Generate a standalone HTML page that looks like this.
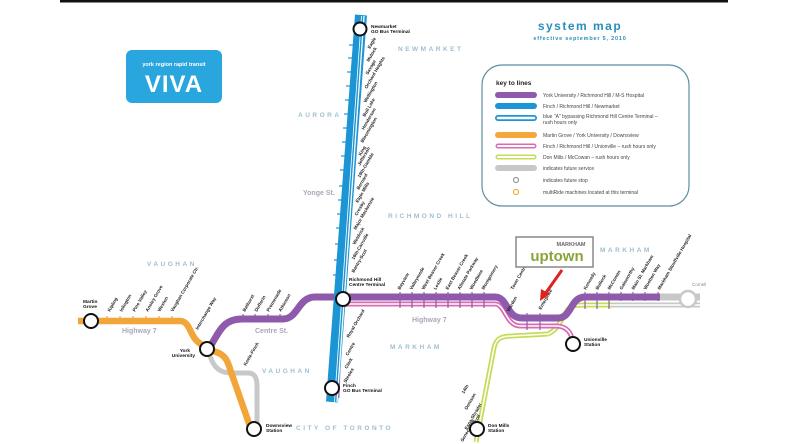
<!DOCTYPE html>
<html><head><meta charset="utf-8"><style>
html,body{margin:0;padding:0;background:#fff;}
svg{display:block;}
text{font-family:"Liberation Sans",sans-serif;}
.st{font-size:4.6px;font-weight:bold;fill:#222;}
.area{font-size:6.5px;fill:#9fbfd0;letter-spacing:2.5px;font-weight:bold;}
.rd{font-size:7px;fill:#a8a8b8;font-weight:bold;}
.term{font-size:4.8px;font-weight:bold;fill:#111;}
.lg{font-size:5px;fill:#444;}
</style></head><body>
<svg width="788" height="444" viewBox="0 0 788 444" xmlns="http://www.w3.org/2000/svg">
<rect width="788" height="444" fill="#fff"/>
<rect x="60" y="0" width="668" height="2.5" fill="#111"/>

<rect x="126" y="50" width="96" height="53" rx="6" fill="#2aa6de"/>
<text x="174" y="66" text-anchor="middle" font-size="5.5" fill="#fff" font-weight="bold">york region rapid transit</text>
<text x="174" y="92" text-anchor="middle" font-size="24" fill="#fff" font-weight="bold" letter-spacing="1">VIVA</text>

<text x="580" y="30" text-anchor="middle" font-size="12" font-weight="bold" fill="#2a8fb8" letter-spacing="1.5">system map</text>
<text x="580" y="40" text-anchor="middle" font-size="5.5" font-weight="bold" fill="#2a8fb8" letter-spacing="0.8">effective september 5, 2010</text>

<rect x="482" y="65" width="207" height="141" rx="20" fill="#fff" stroke="#5d8ea0" stroke-width="1.2"/>
<text x="496" y="85" font-size="6.5" font-weight="bold" fill="#222">key to lines</text>
<line x1="498" y1="95" x2="534" y2="95" stroke="#9059ad" stroke-width="6" stroke-linecap="round"/>
<text x="543" y="97" class="lg">York University / Richmond Hill / M-S Hospital</text>
<line x1="498" y1="106" x2="534" y2="106" stroke="#1c95d4" stroke-width="6" stroke-linecap="round"/>
<text x="543" y="108" class="lg">Finch / Richmond Hill / Newmarket</text>
<line x1="498" y1="118" x2="534" y2="118" stroke="#1c95d4" stroke-width="6" stroke-linecap="round"/>
<line x1="498" y1="118" x2="534" y2="118" stroke="#fff" stroke-width="2.5" stroke-linecap="round"/>
<text x="543" y="118" class="lg" fill="#111">blue "A" bypassing Richmond Hill Centre Terminal –</text>
<text x="543" y="124" class="lg" fill="#111">rush hours only</text>
<line x1="498" y1="135" x2="534" y2="135" stroke="#f4a73c" stroke-width="6" stroke-linecap="round"/>
<text x="543" y="137" class="lg">Martin Grove / York University / Downsview</text>
<line x1="498" y1="146" x2="534" y2="146" stroke="#d86bb4" stroke-width="5" stroke-linecap="round"/>
<line x1="498" y1="146" x2="534" y2="146" stroke="#fff" stroke-width="2" stroke-linecap="round"/>
<text x="543" y="148" class="lg">Finch / Richmond Hill / Unionville – rush hours only</text>
<line x1="498" y1="157" x2="534" y2="157" stroke="#c6dc58" stroke-width="5" stroke-linecap="round"/>
<line x1="498" y1="157" x2="534" y2="157" stroke="#fff" stroke-width="2" stroke-linecap="round"/>
<text x="543" y="159" class="lg">Don Mills / McCowan – rush hours only</text>
<line x1="498" y1="168" x2="534" y2="168" stroke="#c8c8c8" stroke-width="6" stroke-linecap="round"/>
<text x="543" y="170" class="lg">indicates future service</text>
<circle cx="516" cy="180" r="2.5" fill="#fff" stroke="#999" stroke-width="1.2"/>
<text x="543" y="182" class="lg">indicates future stop</text>
<circle cx="516" cy="192" r="2.5" fill="#fff" stroke="#f0b430" stroke-width="1.2"/>
<text x="543" y="194" class="lg">multiRide machines located at this terminal</text>

<text x="398" y="51" class="area">NEWMARKET</text>
<text x="298" y="117" class="area">AURORA</text>
<text x="388" y="218" class="area">RICHMOND HILL</text>
<text x="147" y="266" class="area">VAUGHAN</text>
<text x="262" y="373" class="area">VAUGHAN</text>
<text x="390" y="349" class="area">MARKHAM</text>
<text x="600" y="252" class="area">MARKHAM</text>
<text x="296" y="430" class="area">CITY OF TORONTO</text>
<text x="303" y="195" class="rd">Yonge St.</text>
<text x="122" y="333" class="rd">Highway 7</text>
<text x="255" y="333" class="rd">Centre St.</text>
<text x="412" y="322" class="rd">Highway 7</text>

<path d="M210,356 C214,368 220,373 232,373 L248,373 C255,373 257,378 257,386 L257,425" fill="none" stroke="#c8c8c8" stroke-width="5"/>
<path d="M610,305 L700,305" stroke="#c8c8c8" stroke-width="5" fill="none"/>
<path d="M660,297 L700,297" stroke="#c8c8c8" stroke-width="7" fill="none"/>
<line x1="610" y1="305" x2="700" y2="305" stroke="#fff" stroke-width="1.5"/>
<circle cx="688" cy="299" r="8" fill="#fff" stroke="#c8c8c8" stroke-width="2.5"/>
<text x="692" y="286" font-size="4.5" fill="#888">Cornell</text>

<path d="M78,321 L180,321 C190,321 190,336 198,342 L207,349 L216,352 C226,355 228,362 231,372 L252,432" fill="none" stroke="#f2a63a" stroke-width="6.5" stroke-linejoin="round"/>

<path d="M476,442 L494,348 C496,338 502,336 512,336 L548,334 M548,334 C558,330 562,318 566,312 C570,305 575,305 585,305 L612,305" fill="none" stroke="#c6dc58" stroke-width="5"/>
<path d="M476,442 L494,348 C496,338 502,336 512,336 L548,334 M548,334 C558,330 562,318 566,312 C570,305 575,305 585,305 L612,305" fill="none" stroke="#fff" stroke-width="1.5"/>

<path d="M337,398 L340,312 C341,305 344,304 350,304 L495,304 C505,304 506,326 520,326 L556,326 C566,326 572,332 573,344" fill="none" stroke="#d86bb4" stroke-width="5"/>
<path d="M337,398 L340,312 C341,305 344,304 350,304 L495,304 C505,304 506,326 520,326 L556,326 C566,326 572,332 573,344" fill="none" stroke="#fff" stroke-width="1.5"/>

<path d="M210,347 C220,330 224,319 242,319 L283,319 C298,319 298,297 315,297 L495,297 C508,297 506,318 522,318 L558,318 C572,318 570,297 585,297 L660,297" fill="none" stroke="#8f5aab" stroke-width="7"/>

<path d="M361,15 L332,402" stroke="#1c95d4" stroke-width="12" fill="none"/>
<path d="M364,16 L337,402" stroke="#fff" stroke-width="1.3" fill="none"/>
<path d="M361.5,16 L334.5,402" stroke="#fff" stroke-width="0.8" fill="none"/>

<g stroke="#1c95d4" stroke-width="1.2">
<line x1="349" y1="45" x2="354" y2="45"/><line x1="348" y1="58" x2="353" y2="58"/><line x1="347" y1="72" x2="352" y2="72"/><line x1="346" y1="86" x2="351" y2="86"/><line x1="345" y1="100" x2="350" y2="100"/><line x1="344" y1="114" x2="349" y2="114"/><line x1="343" y1="128" x2="348" y2="128"/><line x1="342" y1="142" x2="347" y2="142"/><line x1="341" y1="156" x2="346" y2="156"/><line x1="340" y1="170" x2="345" y2="170"/><line x1="339" y1="186" x2="344" y2="186"/><line x1="338" y1="200" x2="343" y2="200"/><line x1="337" y1="214" x2="342" y2="214"/><line x1="336" y1="228" x2="341" y2="228"/><line x1="335" y1="244" x2="340" y2="244"/><line x1="334" y1="260" x2="339" y2="260"/><line x1="333" y1="275" x2="338" y2="275"/>
</g>
<g stroke="#8f5aab" stroke-width="1.2">
<line x1="400" y1="292" x2="400" y2="308"/><line x1="412" y1="292" x2="412" y2="308"/><line x1="424" y1="292" x2="424" y2="308"/><line x1="436" y1="292" x2="436" y2="308"/><line x1="448" y1="292" x2="448" y2="308"/><line x1="460" y1="292" x2="460" y2="308"/><line x1="472" y1="292" x2="472" y2="308"/><line x1="484" y1="292" x2="484" y2="308"/><line x1="527" y1="313" x2="527" y2="330"/><line x1="540" y1="313" x2="540" y2="330"/><line x1="585" y1="292" x2="585" y2="309"/><line x1="597" y1="292" x2="597" y2="309"/><line x1="609" y1="292" x2="609" y2="309"/><line x1="621" y1="292" x2="621" y2="301"/><line x1="633" y1="292" x2="633" y2="301"/><line x1="645" y1="292" x2="645" y2="301"/><line x1="658" y1="292" x2="658" y2="301"/>
<line x1="243" y1="314" x2="243" y2="318"/><line x1="255" y1="314" x2="255" y2="318"/><line x1="268" y1="314" x2="268" y2="318"/><line x1="280" y1="314" x2="280" y2="318"/>
</g>
<g stroke="#f2a63a" stroke-width="1.2">
<line x1="107" y1="316" x2="107" y2="319"/><line x1="120" y1="316" x2="120" y2="319"/><line x1="133" y1="316" x2="133" y2="319"/><line x1="146" y1="316" x2="146" y2="319"/><line x1="159" y1="316" x2="159" y2="319"/><line x1="172" y1="316" x2="172" y2="319"/>
</g>

<g class="st">
<text transform="translate(370,49) rotate(-60)">Eagle</text>
<text transform="translate(369,62) rotate(-60)">Mulock</text>
<text transform="translate(368,75) rotate(-60)">Savage</text>
<text transform="translate(367,89) rotate(-60)">Orchard Heights</text>
<text transform="translate(366,103) rotate(-60)">Wellington</text>
<text transform="translate(365,117) rotate(-60)">Bull Lake</text>
<text transform="translate(364,130) rotate(-60)">Henderson</text>
<text transform="translate(363,143) rotate(-60)">Bloomington</text>
<text transform="translate(361,156) rotate(-60)">King</text>
<text transform="translate(360,166) rotate(-60)">Jefferson</text>
<text transform="translate(360,178) rotate(-60)">19th-Gamble</text>
<text transform="translate(359,190) rotate(-60)">Bernard</text>
<text transform="translate(358,203) rotate(-60)">Elgin Mills</text>
<text transform="translate(357,216) rotate(-60)">Crosby</text>
<text transform="translate(356,230) rotate(-60)">Major Mackenzie</text>
<text transform="translate(355,245) rotate(-60)">Weldrick</text>
<text transform="translate(354,260) rotate(-60)">16th-Carrville</text>
<text transform="translate(354,273) rotate(-60)">Bantry-Scot</text>
<text transform="translate(349,338) rotate(-60)">Royal Orchard</text>
<text transform="translate(348,356) rotate(-60)">Centre</text>
<text transform="translate(347,369) rotate(-60)">Clark</text>
<text transform="translate(346,383) rotate(-60)">Steeles</text>
<text transform="translate(400,290) rotate(-60)">Bayview</text>
<text transform="translate(412,290) rotate(-60)">Valleymede</text>
<text transform="translate(424,290) rotate(-60)">West Beaver Creek</text>
<text transform="translate(436,290) rotate(-60)">Leslie</text>
<text transform="translate(448,290) rotate(-60)">East Beaver Creek</text>
<text transform="translate(460,290) rotate(-60)">Allstate Parkway</text>
<text transform="translate(472,290) rotate(-60)">Woodbine</text>
<text transform="translate(484,290) rotate(-60)">Montgomery</text>
<text transform="translate(513,290) rotate(-60)">Town Centre</text>
<text transform="translate(509,312) rotate(-60)">Warden</text>
<text transform="translate(541,310) rotate(-60)">Enterprise</text>
<text transform="translate(586,290) rotate(-60)">Kennedy</text>
<text transform="translate(598,290) rotate(-60)">Bullock</text>
<text transform="translate(610,290) rotate(-60)">McCowan</text>
<text transform="translate(622,290) rotate(-60)">Galsworthy</text>
<text transform="translate(634,290) rotate(-60)">Main St. Markham</text>
<text transform="translate(646,290) rotate(-60)">Wootten Way</text>
<text transform="translate(660,290) rotate(-60)">Markham Stouffville Hospital</text>
<text transform="translate(110,312) rotate(-60)">Kipling</text>
<text transform="translate(122,312) rotate(-60)">Islington</text>
<text transform="translate(135,312) rotate(-60)">Pine Valley</text>
<text transform="translate(148,312) rotate(-60)">Ansley Grove</text>
<text transform="translate(160,312) rotate(-60)">Weston</text>
<text transform="translate(173,312) rotate(-60)">Vaughan Corporate Ctr.</text>
<text transform="translate(198,330) rotate(-60)">Interchange Way</text>
<text transform="translate(245,312) rotate(-60)">Bathurst</text>
<text transform="translate(257,312) rotate(-60)">Dufferin</text>
<text transform="translate(269,312) rotate(-60)">Promenade</text>
<text transform="translate(281,312) rotate(-60)">Atkinson</text>
<text transform="translate(246,366) rotate(-60)">Keele-Finch</text>
<text transform="translate(464,394) rotate(-60)">14th</text>
<text transform="translate(467,410) rotate(-60)">Denison</text>
<text transform="translate(467,430) rotate(-60)">Esna-Shrader</text>
<text transform="translate(471,432) rotate(-60)">McNicoll</text>
<text transform="translate(463,442) rotate(-60)">Seneca Hill</text>
</g>

<g fill="#fff" stroke="#111" stroke-width="2">
<circle cx="360" cy="29" r="6.5"/>
<circle cx="343" cy="299" r="7"/>
<circle cx="332" cy="388" r="7"/>
<circle cx="91" cy="321" r="7"/>
<circle cx="207" cy="349" r="7"/>
<circle cx="254" cy="429" r="7"/>
<circle cx="573" cy="344" r="7"/>
<circle cx="477" cy="429" r="7"/>
</g>
<g class="term">
<text x="371" y="28">Newmarket</text><text x="371" y="33">GO Bus Terminal</text>
<text x="349" y="281">Richmond Hill</text><text x="349" y="286">Centre Terminal</text>
<text x="343" y="387">Finch</text><text x="343" y="392">GO Bus Terminal</text>
<text x="83" y="303">Martin</text><text x="83" y="308">Grove</text>
<text x="190" y="352" text-anchor="end">York</text><text x="195" y="357" text-anchor="end">University</text>
<text x="266" y="427">Downsview</text><text x="266" y="432">Station</text>
<text x="584" y="341">Unionville</text><text x="584" y="346">Station</text>
<text x="488" y="427">Don Mills</text><text x="488" y="432">Station</text>
</g>

<rect x="516" y="237" width="77" height="30" fill="#fff" stroke="#888" stroke-width="1.5"/>
<text x="571" y="246" text-anchor="middle" font-size="5.5" font-weight="bold" fill="#666">MARKHAM</text>
<text x="557" y="261" text-anchor="middle" font-size="15" font-weight="bold" fill="#8aa43a">uptown</text>
<path d="M562,270 L545,294" stroke="#dd2222" stroke-width="3"/>
<polygon points="540,301 541,289 550,294" fill="#dd2222"/>
</svg>
</body></html>
